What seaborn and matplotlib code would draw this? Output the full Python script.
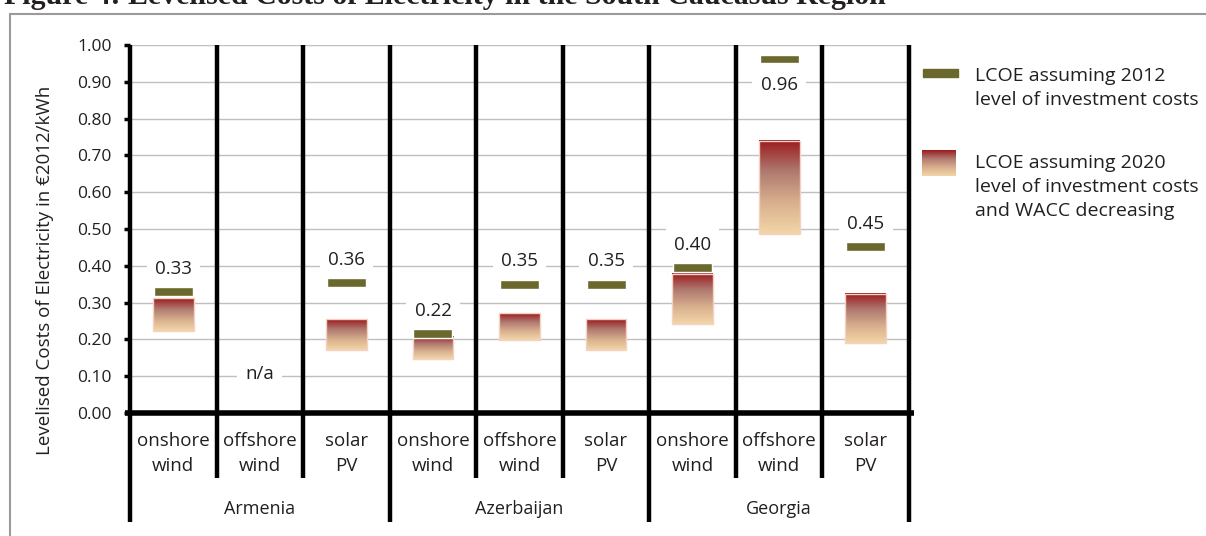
import numpy as np
import matplotlib
matplotlib.use("Agg")
import matplotlib.pyplot as plt
from matplotlib.colors import LinearSegmentedColormap
from matplotlib.patches import Rectangle
import seaborn as sns

# data (EUR2012/kWh)
countries = ["Armenia", "Azerbaijan", "Georgia"]
technologies = ["onshore\nwind", "offshore\nwind", "solar\nPV"]
lcoe_2012 = [0.33, np.nan, 0.355, 0.216, 0.35, 0.35, 0.395, 0.962, 0.452]
labels_2012 = ["0.33", "n/a", "0.36", "0.22", "0.35", "0.35", "0.40", "0.96", "0.45"]
lcoe_2020_high = [0.312, np.nan, 0.255, 0.206, 0.271, 0.255, 0.377, 0.740, 0.323]
lcoe_2020_low = [0.223, np.nan, 0.171, 0.146, 0.198, 0.171, 0.241, 0.486, 0.189]

sns.set_theme(style="white")
plt.rcParams['font.family'] = ['Open Sans', 'DejaVu Sans']
txt = "#231f20"
olive = "#6a682c"
grad = LinearSegmentedColormap.from_list("lcoe", ["#f3d6a8", "#d9b08e", "#b07a70", "#9b1b1f"])
gradient = np.linspace(0, 1, 256).reshape(-1, 1)

fig = plt.figure(figsize=(12.06, 5.36), dpi=100)
ax = fig.add_axes([130 / 1206, 1 - 413 / 536, (909 - 130) / 1206, (413 - 45) / 536])

n = len(lcoe_2012)
xs = np.arange(n)

# grid
for g in np.arange(0.1, 1.01, 0.1):
    ax.axhline(g, color="#c0c0c0", lw=1, zorder=0)

# 2020 gradient boxes
bw = 0.47
for x, lo, hi in zip(xs, lcoe_2020_low, lcoe_2020_high):
    if np.isnan(hi):
        continue
    ax.imshow(gradient, extent=[x - bw / 2, x + bw / 2, lo, hi], origin="lower",
              cmap=grad, aspect="auto", zorder=2, interpolation="bilinear")
    ax.add_patch(Rectangle((x - bw / 2, lo), bw, hi - lo, fill=False,
                           edgecolor="#f3d2c4", lw=1, zorder=3))
ax.set_xlim(-0.5, n - 0.5)
ax.set_ylim(0, 1.0)

# 2012 markers
mh = 0.024
vals = np.array(lcoe_2012)
ax.bar(xs, np.where(np.isnan(vals), 0, mh), bottom=np.nan_to_num(vals) - mh / 2,
       width=0.45, color=olive, zorder=3)

for x, v, lab in zip(xs, lcoe_2012, labels_2012):
    if np.isnan(v):
        y = 0.105
    elif v > 0.9:
        y = v - 0.072
    else:
        y = v + 0.062
    ax.text(x, y, lab, ha="center", va="center", fontsize=13.5, color=txt, zorder=4,
            bbox=dict(facecolor="white", edgecolor="none", pad=6))

# separators and axes lines
for i in range(n + 1):
    b = i - 0.5
    bottom = -0.296 if i % 3 == 0 else -0.177
    ax.plot([b, b], [bottom, 1.0], color="black", lw=3.2, clip_on=False, zorder=5,
            solid_capstyle="butt")
ax.plot([-0.56, n - 0.44], [0, 0], color="black", lw=4, clip_on=False, zorder=6,
        solid_capstyle="butt")

for s in ax.spines.values():
    s.set_visible(False)
ax.set_xticks([])
ax.set_yticks(np.arange(0, 1.01, 0.1))
ax.set_yticklabels([f"{t:.2f}" for t in np.arange(0, 1.01, 0.1)], fontsize=12.5, color=txt)
ax.tick_params(axis="y", left=True, length=4, width=2.5, color="black", pad=9)

# category and country labels
for x in xs:
    ax.text(x, -0.11, technologies[x % 3], ha="center", va="center", fontsize=13.5,
            color=txt, linespacing=1.5)
for k, c in enumerate(countries):
    ax.text(3 * k + 1, -0.26, c, ha="center", va="center", fontsize=13, color=txt)

fig.text(45 / 1206, 1 - 270 / 536, "Levelised Costs of Electricity in \u20ac2012/kWh",
         rotation=90, ha="center", va="center", fontsize=13.5, color=txt)

# legend
fig.patches.append(Rectangle((923 / 1206, 1 - 77 / 536), 35 / 1206, 8 / 536,
                             transform=fig.transFigure, color=olive))
fig.text(975 / 1206, 1 - 88 / 536, "LCOE assuming 2012\nlevel of investment costs",
         ha="left", va="center", fontsize=14, color=txt, linespacing=1.45)
lax = fig.add_axes([922 / 1206, 1 - 176 / 536, 34 / 1206, 26 / 536])
lax.imshow(gradient, origin="lower", cmap=grad, aspect="auto", interpolation="bilinear")
lax.axis("off")
fig.text(975 / 1206, 1 - 187 / 536,
         "LCOE assuming 2020\nlevel of investment costs\nand WACC decreasing",
         ha="left", va="center", fontsize=14, color=txt, linespacing=1.45)

# outer frame and clipped caption
fig.patches.append(Rectangle((10 / 1206, -0.05), 1.2, 1.05 - 14 / 536,
                             transform=fig.transFigure, fill=False,
                             edgecolor="#9a9a9a", lw=1.5))
fig.text(4 / 1206, 1 - 4 / 536,
         "Figure 4: Levelised Costs of Electricity in the South Caucasus Region",
         ha="left", va="baseline", fontsize=21.5, fontweight="bold",
         family=["Liberation Serif", "DejaVu Serif"], color=txt)

fig.savefig("out.png", dpi=100)
